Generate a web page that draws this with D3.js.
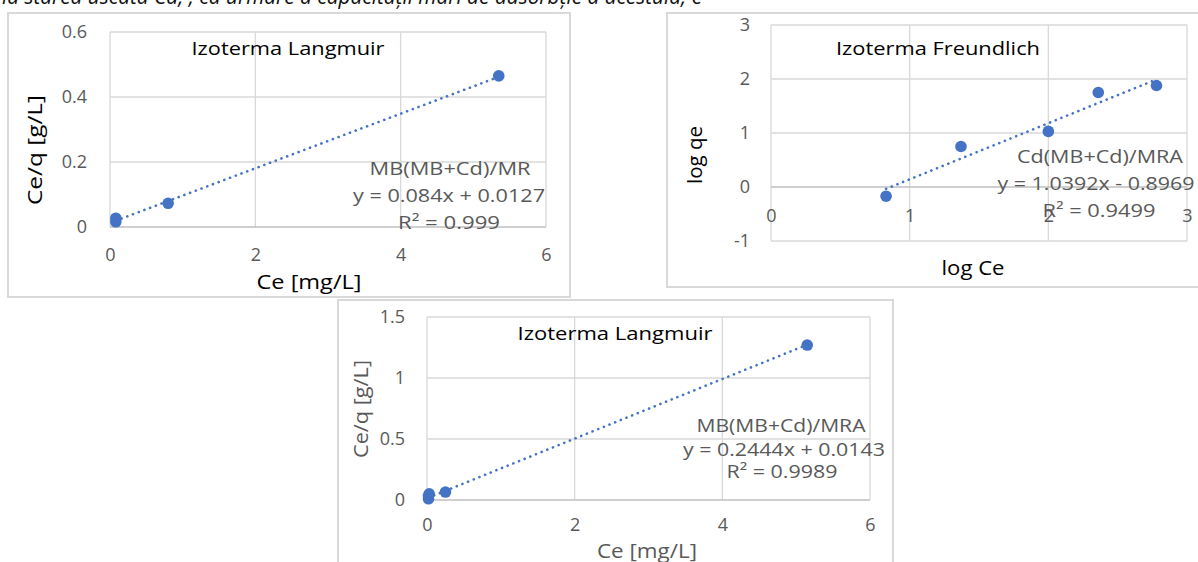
<!DOCTYPE html>
<html><head><meta charset="utf-8">
<script src="https://cdn.jsdelivr.net/npm/d3@7"></script>
<style>body{margin:0;background:#fff;} svg{display:block;font-family:'Open Sans',sans-serif;}</style>
</head><body><svg id="c" width="1198" height="562"></svg>
<script>
// ---------- data ----------
// Chart 1: Langmuir MB(MB+Cd)/MR
const lang1Ce   = [0.08, 0.08, 0.8, 5.35];
const lang1CeQ  = [0.027, 0.016, 0.073, 0.465];
const lang1Fit  = [0.084, 0.0127];
const lang1XTicks = [0, 2, 4, 6];
const lang1YTicks = [0, 0.2, 0.4, 0.6];
const lang1Texts = ["MB(MB+Cd)/MR", "y = 0.084x + 0.0127", "R² = 0.999"];

// Chart 2: Freundlich Cd(MB+Cd)/MRA
const freLogCe = [0.83, 1.37, 2.0, 2.36, 2.78];
const freLogQe = [-0.17, 0.75, 1.03, 1.75, 1.88];
const freFit   = [1.0392, -0.8969];
const freXTicks = [0, 1, 2, 3];
const freYTicks = [-1, 0, 1, 2, 3];
const freTexts = ["Cd(MB+Cd)/MRA", "y = 1.0392x - 0.8969", "R² = 0.9499"];

// Chart 3: Langmuir MB(MB+Cd)/MRA
const lang3Ce   = [0.02, 0.02, 0.03, 0.25, 5.15];
const lang3CeQ  = [0.01, 0.035, 0.05, 0.065, 1.27];
const lang3Fit  = [0.2444, 0.0143];
const lang3XTicks = [0, 2, 4, 6];
const lang3YTicks = [0, 0.5, 1, 1.5];
const lang3Texts = ["MB(MB+Cd)/MRA", "y = 0.2444x + 0.0143", "R² = 0.9989"];

const topLine = "la starea uscată Cd, , ca urmare a capacității mari de adsorbție a acestuia, e";

// ---------- drawing ----------
const svg = d3.select("#c");
const BLUE = "#4472C4", GRID = "#d9d9d9", AXIS = "#bfbfbf", LAB = "#595959";

svg.append("text").text(topLine)
  .attr("x", 2).attr("y", 4).attr("font-size", 22).attr("font-style", "italic")
  .attr("fill", "#111").attr("textLength", 700).attr("lengthAdjust", "spacingAndGlyphs");

function txt(g, s, x, y, o) {
  const t = g.append("text").text(s)
    .attr("x", x).attr("y", y)
    .attr("dominant-baseline", "central")
    .attr("text-anchor", o.anchor || "middle")
    .attr("font-size", o.size || 18)
    .attr("fill", o.fill || "#000");
  if (o.weight) t.attr("font-weight", o.weight);
  if (o.len) t.attr("textLength", o.len).attr("lengthAdjust", "spacingAndGlyphs");
  if (o.rotate) t.attr("transform", `rotate(-90,${x},${y})`);
  return t;
}

function chart(cfg) {
  const g = svg.append("g");
  g.append("rect").attr("x", cfg.box[0]).attr("y", cfg.box[1])
    .attr("width", cfg.box[2]).attr("height", cfg.box[3])
    .attr("fill", "#fff").attr("stroke", GRID).attr("stroke-width", 2);
  const x = d3.scaleLinear().domain(d3.extent(cfg.xTicks)).range(cfg.xr);
  const y = d3.scaleLinear().domain(d3.extent(cfg.yTicks)).range(cfg.yr);
  // grid
  g.selectAll(".gx").data(cfg.xTicks).join("line")
    .attr("x1", d => x(d)).attr("x2", d => x(d))
    .attr("y1", cfg.yr[1]).attr("y2", cfg.yr[0])
    .attr("stroke", GRID).attr("stroke-width", 1.3);
  g.selectAll(".gy").data(cfg.yTicks).join("line")
    .attr("x1", cfg.xr[0]).attr("x2", cfg.xr[1])
    .attr("y1", d => y(d)).attr("y2", d => y(d))
    .attr("stroke", d => d === 0 ? AXIS : GRID).attr("stroke-width", 1.3);
  // axes labels via d3 axes
  const ay = g.append("g").attr("transform", `translate(${cfg.xr[0]},0)`)
    .call(d3.axisLeft(y).tickValues(cfg.yTicks).tickFormat(d => String(d)).tickSize(0).tickPadding(cfg.yPad));
  const ax = g.append("g").attr("transform", `translate(0,${y(0)})`)
    .call(d3.axisBottom(x).tickValues(cfg.xTicks).tickFormat(d => String(d)).tickSize(0).tickPadding(cfg.xPad));
  [ay, ax].forEach(a => {
    a.select(".domain").remove();
    a.selectAll("text").attr("font-size", 18).attr("fill", LAB).attr("font-family", "'Open Sans',sans-serif");
  });
  // trendline
  const [m, b] = cfg.fit;
  const [x0, x1] = d3.extent(cfg.xs);
  g.append("line").attr("x1", x(x0)).attr("y1", y(m * x0 + b))
    .attr("x2", x(x1)).attr("y2", y(m * x1 + b))
    .attr("stroke", BLUE).attr("stroke-width", 2.6)
    .attr("stroke-dasharray", "0.1 6").attr("stroke-linecap", "round");
  // points
  g.selectAll(".pt").data(cfg.xs.map((d, i) => [d, cfg.ys[i]])).join("circle")
    .attr("cx", d => x(d[0])).attr("cy", d => y(d[1])).attr("r", 5.8).attr("fill", BLUE);
  // texts
  txt(g, cfg.title[0], cfg.title[1], cfg.title[2], {size: 19, len: cfg.title[3]});
  txt(g, cfg.xt[0], cfg.xt[1], cfg.xt[2], {size: 20, len: cfg.xt[3], fill: cfg.atFill});
  txt(g, cfg.yt[0], cfg.yt[1], cfg.yt[2], {size: 20, len: cfg.yt[3], fill: cfg.atFill, rotate: true, weight: cfg.ytWeight});
  cfg.texts.forEach((s, i) => txt(g, s, cfg.ann[i][0], cfg.ann[i][1], {size: 18, fill: LAB, len: cfg.ann[i][2]}));
}

chart({
  box: [8, 13, 562, 284],
  xTicks: lang1XTicks, yTicks: lang1YTicks, xr: [110, 546], yr: [227, 32],
  yPad: 23, xPad: 21, xs: lang1Ce, ys: lang1CeQ, fit: lang1Fit,
  title: ["Izoterma Langmuir", 288, 48, 193],
  xt: ["Ce [mg/L]", 309, 281, 105], yt: ["Ce/q [g/L]", 34, 150, 110], atFill: "#000", ytWeight: 500,
  texts: lang1Texts, ann: [[450, 168, 161], [449, 195, 192], [449, 222, 102]]
});

chart({
  box: [667, 13, 545, 274],
  xTicks: freXTicks, yTicks: freYTicks, xr: [771, 1187], yr: [241, 25],
  yPad: 21, xPad: 22, xs: freLogCe, ys: freLogQe, fit: freFit,
  title: ["Izoterma Freundlich", 938, 48, 204],
  xt: ["log Ce", 973, 267, 63], yt: ["log qe", 694, 155, 58], atFill: "#000",
  texts: freTexts, ann: [[1100, 156, 166], [1096, 183, 197], [1099, 210, 113]]
});

chart({
  box: [338, 300, 555, 270],
  xTicks: lang3XTicks, yTicks: lang3YTicks, xr: [427, 870], yr: [500, 317],
  yPad: 22, xPad: 18, xs: lang3Ce, ys: lang3CeQ, fit: lang3Fit,
  title: ["Izoterma Langmuir", 615, 333, 195],
  xt: ["Ce [mg/L]", 647, 550, 100], yt: ["Ce/q [g/L]", 360, 409, 98], atFill: LAB,
  texts: lang3Texts, ann: [[781, 425, 169], [784, 449, 202], [782, 471, 111]]
});
</script></body></html>
